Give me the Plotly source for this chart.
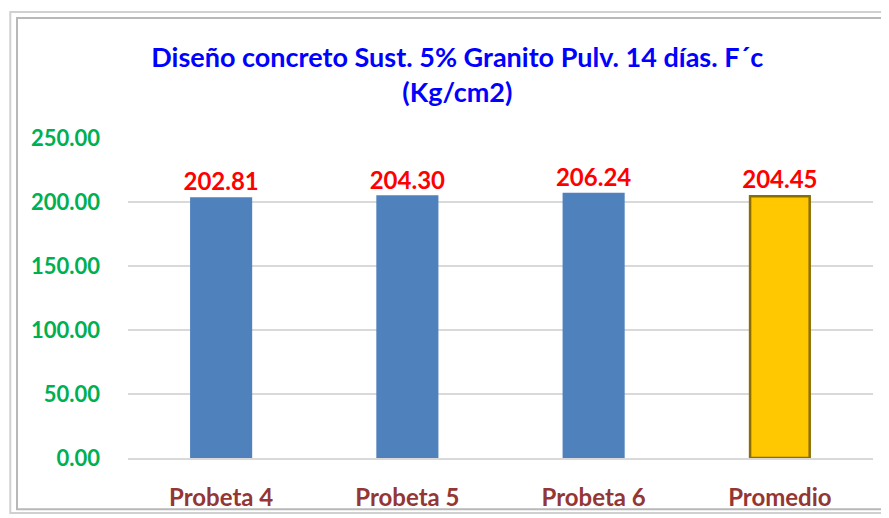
import plotly.graph_objects as go

# Datos del ensayo a compresion
probetas = ['Probeta 4', 'Probeta 5', 'Probeta 6', 'Promedio']
resistencia = [202.81, 204.30, 206.24, 204.45]
ticks_y = [0, 50, 100, 150, 200, 250]

colores = ['#4F81BD', '#4F81BD', '#4F81BD', '#FFC800']
bordes = ['#4F81BD', '#4F81BD', '#4F81BD', '#8C6D00']

fig = go.Figure()
fig.add_bar(x=probetas, y=resistencia,
            marker=dict(color=colores, line=dict(color=bordes, width=2.5)),
            texttemplate='%{y:.2f}', textposition='outside', cliponaxis=False,
            constraintext='none',
            textfont=dict(color='#FF0000', size=24, family='Lato', weight='bold'),
            width=0.32)

# marco del grafico (estilo Excel)
marco = [
    dict(type='rect', xref='paper', yref='paper', x0=-0.158, x1=1.019, y0=-0.172, y1=1.394,
         line=dict(color='#D0D0D0', width=2)),
    dict(type='rect', xref='paper', yref='paper', x0=-0.149, x1=1.016, y0=-0.16, y1=1.375,
         line=dict(color='#B8B8B8', width=2)),
]

# la pagina tiene 8px de margen, por eso la figura es 8px mas chica
fig.update_layout(
    width=881, height=510,
    title=dict(text='<b>Diseño concreto Sust. 5% Granito Pulv. 14 días. F´c<br>(Kg/cm2)</b>',
               x=0.510, xanchor='center', y=0.885, yanchor='middle',
               font=dict(color='#0000FF', size=27, family='Lato')),
    font=dict(family='Lato'),
    plot_bgcolor='white', paper_bgcolor='white',
    margin=dict(l=120, r=16, t=130, b=60, autoexpand=False),
    showlegend=False,
    shapes=marco
)
fig.update_yaxes(range=[0, 250], tickvals=ticks_y, tickformat='.2f', automargin=False,
                 showgrid=True, gridcolor='#D9D9D9', gridwidth=1.5, zeroline=False,
                 tickfont=dict(color='#00B050', size=22, family='Lato', weight='bold'),
                 ticks='', ticklabelstandoff=27)
fig.update_xaxes(showline=True, linecolor='#D9D9D9', linewidth=1.5, automargin=False,
                 tickfont=dict(color='#943634', size=24, family='Lato', weight='bold'),
                 ticklabelstandoff=17)

fig.write_html("out.html")
